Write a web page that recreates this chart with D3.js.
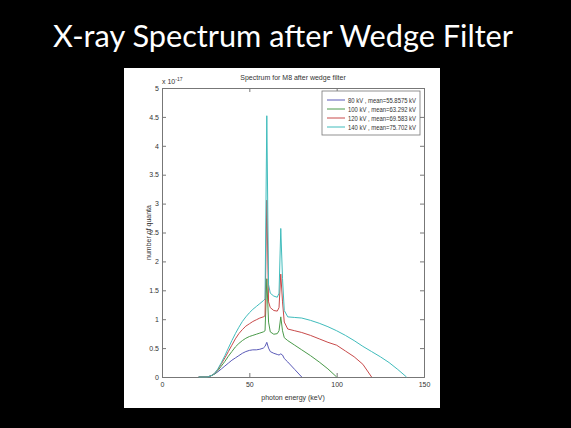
<!DOCTYPE html>
<html lang="en">
<head>
    <meta charset="UTF-8">
    <script src="https://d3js.org/d3.v7.min.js"></script>
    <style>
        body {
            margin: 0;
            padding: 0;
            background: #000;
        }
        .tick text {
            font-family: "Liberation Sans", Arial, sans-serif;
            font-size: 7px;
            fill: #333;
        }
        .tick line, .domain {
            stroke: #777;
        }
    </style>
</head>
<body>
    <div id="chart"></div>
    <script>
        // Photon energies (keV) shared by all spectra
        const energies = [21, 26, 28, 30, 32, 34, 36, 38, 40, 42, 44, 46, 48, 50, 52, 54, 56, 58, 59, 60,
                          61, 62, 64, 66, 67, 68, 69, 70, 72, 76, 80, 85, 90, 95, 100, 105, 110, 115, 120,
                          125, 130, 135, 140];

        // Number of quanta (x 1e-17) per tube voltage
        const kv80  = [0, 0, 0.02, 0.05, 0.09, 0.14, 0.19, 0.24, 0.29, 0.33, 0.37, 0.41, 0.44, 0.46, 0.47,
                       0.47, 0.48, 0.5, 0.53, 0.6, 0.5, 0.44, 0.41, 0.39, 0.38, 0.4, 0.38, 0.32, 0.26, 0.13, 0];
        const kv100 = [0, 0, 0.02, 0.05, 0.11, 0.19, 0.27, 0.36, 0.44, 0.52, 0.58, 0.63, 0.67, 0.7, 0.72,
                       0.74, 0.76, 0.78, 0.8, 1.7, 0.95, 0.78, 0.74, 0.75, 0.8, 1.04, 0.8, 0.68, 0.63, 0.55,
                       0.47, 0.37, 0.26, 0.14, 0];
        const kv120 = [0, 0, 0.02, 0.06, 0.13, 0.23, 0.33, 0.44, 0.55, 0.66, 0.75, 0.82, 0.88, 0.92, 0.96,
                       0.99, 1.02, 1.04, 1.06, 3.06, 1.3, 1.2, 1.15, 1.14, 1.2, 1.78, 1.3, 0.95, 0.83, 0.8,
                       0.77, 0.72, 0.66, 0.6, 0.55, 0.45, 0.35, 0.22, 0];
        const kv140 = [0, 0, 0.02, 0.06, 0.14, 0.25, 0.37, 0.5, 0.63, 0.75, 0.86, 0.96, 1.04, 1.11, 1.17,
                       1.22, 1.27, 1.32, 1.35, 4.52, 1.6, 1.45, 1.4, 1.38, 1.45, 2.57, 1.7, 1.15, 1.04, 1.03,
                       1.02, 0.98, 0.93, 0.87, 0.8, 0.72, 0.63, 0.53, 0.44, 0.35, 0.25, 0.13, 0];

        const seriesNames = ["80 kV , mean=55.8575 kV", "100 kV , mean=63.292 kV",
                             "120 kV , mean=69.583 kV", "140 kV , mean=75.702 kV"];
        const seriesColors = ["#5a5ab8", "#4a9a4a", "#c84a4a", "#40bcbc"];

        const xTicks = [0, 50, 100, 150];
        const yTicks = [0, 0.5, 1, 1.5, 2, 2.5, 3, 3.5, 4, 4.5, 5];

        const width = 571;
        const height = 428;

        const svg = d3.select("#chart").append("svg")
            .attr("width", width)
            .attr("height", height);

        svg.append("rect")
            .attr("width", width)
            .attr("height", height)
            .attr("fill", "#000");

        // Slide title
        svg.append("text")
            .attr("x", 53)
            .attr("y", 47)
            .attr("textLength", 460)
            .attr("lengthAdjust", "spacingAndGlyphs")
            .style("font-family", "Lato, 'Open Sans', sans-serif")
            .style("font-size", "31px")
            .attr("fill", "#fff")
            .text("X-ray Spectrum after Wedge Filter");

        // White figure panel
        svg.append("rect")
            .attr("x", 124)
            .attr("y", 68)
            .attr("width", 316)
            .attr("height", 340)
            .attr("fill", "#fff");

        const plotL = 162, plotR = 424, plotT = 88, plotB = 377;

        const x = d3.scaleLinear().domain([0, 150]).range([plotL, plotR]);
        const y = d3.scaleLinear().domain([0, 5]).range([plotB, plotT]);

        const fmt = d3.format("~g");

        svg.append("g")
            .attr("transform", `translate(0,${plotB})`)
            .call(d3.axisBottom(x).tickValues(xTicks).tickSize(-4).tickPadding(5).tickFormat(fmt));
        svg.append("g")
            .attr("transform", `translate(0,${plotT})`)
            .call(d3.axisTop(x).tickValues(xTicks).tickSize(-4).tickFormat(""));
        svg.append("g")
            .attr("transform", `translate(${plotL},0)`)
            .call(d3.axisLeft(y).tickValues(yTicks).tickSize(-4).tickPadding(3).tickFormat(fmt));
        svg.append("g")
            .attr("transform", `translate(${plotR},0)`)
            .call(d3.axisRight(y).tickValues(yTicks).tickSize(-4).tickFormat(""));

        const line = d3.line()
            .x((v, i) => x(energies[i]))
            .y(v => y(v));

        [kv80, kv100, kv120, kv140].forEach((vals, i) => {
            svg.append("path")
                .datum(vals)
                .attr("fill", "none")
                .attr("stroke", seriesColors[i])
                .attr("stroke-width", 1)
                .attr("d", line);
        });

        const smallFont = "'Liberation Sans', Arial, sans-serif";

        // Axes titles
        svg.append("text")
            .attr("x", (plotL + plotR) / 2)
            .attr("y", 80)
            .attr("text-anchor", "middle")
            .style("font-family", smallFont)
            .style("font-size", "7px")
            .attr("fill", "#333")
            .text("Spectrum for M8 after wedge filter");

        svg.append("text")
            .attr("x", (plotL + plotR) / 2)
            .attr("y", 400)
            .attr("text-anchor", "middle")
            .style("font-family", smallFont)
            .style("font-size", "7px")
            .attr("fill", "#333")
            .text("photon energy (keV)");

        svg.append("text")
            .attr("transform", `translate(151,${(plotT + plotB) / 2}) rotate(-90)`)
            .attr("text-anchor", "middle")
            .style("font-family", smallFont)
            .style("font-size", "7px")
            .attr("fill", "#333")
            .text("number of quanta");

        const expo = svg.append("text")
            .attr("x", 162)
            .attr("y", 84)
            .style("font-family", smallFont)
            .style("font-size", "7px")
            .attr("fill", "#333");
        expo.append("tspan").text("x 10");
        expo.append("tspan").attr("dy", -3).style("font-size", "5px").text("-17");

        // Legend
        const legend = svg.append("g");
        legend.append("rect")
            .attr("x", 322)
            .attr("y", 91)
            .attr("width", 98)
            .attr("height", 44)
            .attr("fill", "#fff")
            .attr("stroke", "#777")
            .attr("stroke-width", 0.8);

        seriesNames.forEach((name, i) => {
            const ly = 100 + i * 9;
            legend.append("line")
                .attr("x1", 327).attr("x2", 345)
                .attr("y1", ly).attr("y2", ly)
                .attr("stroke", seriesColors[i]);
            legend.append("text")
                .attr("x", 348)
                .attr("y", ly + 2.5)
                .attr("textLength", 68)
                .attr("lengthAdjust", "spacingAndGlyphs")
                .style("font-family", smallFont)
                .style("font-size", "7px")
                .attr("fill", "#333")
                .text(name);
        });
    </script>
</body>
</html>
